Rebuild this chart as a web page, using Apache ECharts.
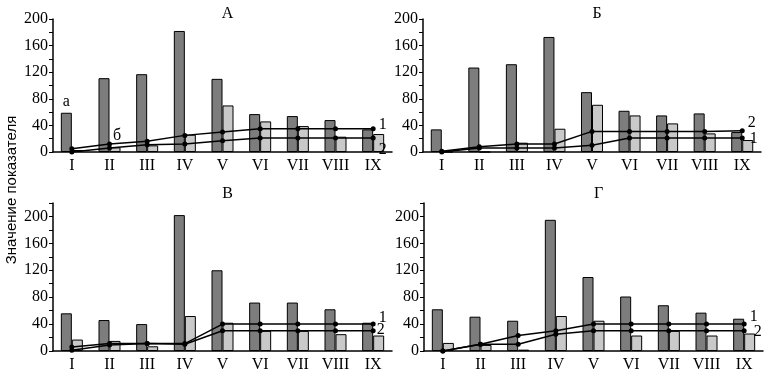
<!DOCTYPE html>
<html>
<head>
<meta charset="utf-8">
<script src="https://cdn.jsdelivr.net/npm/echarts@6/dist/echarts.min.js"></script>
<style>
  html, body { margin: 0; padding: 0; background: #fff; }
  #chart { width: 768px; height: 376px; }
</style>
</head>
<body>
<div id="chart"></div>
<script>
var chart = echarts.init(document.getElementById('chart'));

var categories = ['I', 'II', 'III', 'IV', 'V', 'VI', 'VII', 'VIII', 'IX'];
var panelTitles = ['А', 'Б', 'В', 'Г'];

// a = dark bars, b = light bars, l1 / l2 = lines 1 and 2
var aA = [59, 111, 117, 182, 110, 57, 54, 48, 34];
var bA = [3, 7, 10, 26, 70, 46, 39, 23, 27];
var l1A = [5, 12, 16, 25, 30, 35, 35, 35, 35];
var l2A = [0, 6, 11, 12, 17, 21, 21, 21, 21];

var aB = [34, 127, 132, 173, 90, 62, 55, 58, 30];
var bB = [0, 0, 14, 35, 71, 55, 43, 28, 18];
var l1B = [0, 6, 6, 6, 10, 21, 21, 21, 21];
var l2B = [1, 8, 12, 12, 31, 31, 31, 31, 32];

var aV = [56, 46, 40, 202, 120, 72, 72, 62, 42];
var bV = [17, 15, 7, 52, 42, 30, 30, 25, 23];
var l1V = [6, 11, 11, 11, 40, 40, 40, 40, 40];
var l2V = [1, 9, 11, 10, 30, 30, 30, 30, 30];

var aG = [62, 51, 45, 195, 110, 81, 68, 57, 48];
var bG = [12, 9, 2, 52, 45, 23, 30, 23, 26];
var l1G = [0, 10, 23, 30, 40, 40, 40, 40, 40];
var l2G = [0, 10, 10, 25, 30, 30, 30, 30, 30];

var serif = 'Liberation Serif';
var txt = { fontFamily: serif, fontSize: 16, color: '#000' };

var grids = [
  { left: 53, top: 19, width: 339, height: 133 },
  { left: 423, top: 19, width: 338, height: 133 },
  { left: 53, top: 203, width: 339, height: 148 },
  { left: 424, top: 203, width: 339, height: 148 }
];
var yMax = [200, 200, 220, 220];

var panels = [
  { a: aA, b: bA, l1: l1A, l2: l2A, off1: [0, -4], off2: [0, 12], aLabel: true, bLabel: true },
  { a: aB, b: bB, l1: l1B, l2: l2B, off1: [2, 1], off2: [0, -8] },
  { a: aV, b: bV, l1: l1V, l2: l2V, off1: [0, -6], off2: [-2, -1] },
  { a: aG, b: bG, l1: l1G, l2: l2G, off1: [0, -7], off2: [4, 1] }
];

var xAxes = [], yAxes = [], series = [], titles = [];

function withLabel(values, idx, text, pos, offset) {
  return values.map(function (v, i) {
    if (i !== idx) return v;
    return {
      value: v,
      label: Object.assign({ show: true, position: pos, distance: 3, offset: offset,
        formatter: text }, txt)
    };
  });
}

panels.forEach(function (p, k) {
  var g = grids[k];
  titles.push({
    text: panelTitles[k], left: g.left + g.width / 2, top: k < 2 ? 1 : 181,
    textAlign: 'center', textStyle: { fontFamily: serif, fontSize: 16, fontWeight: 'normal', color: '#000' }
  });
  xAxes.push({
    type: 'category', gridIndex: k, data: categories,
    axisLine: { lineStyle: { color: '#000', width: 1.5 } },
    axisTick: { length: 4, lineStyle: { color: '#000' } },
    axisLabel: Object.assign({ margin: 6 }, txt)
  });
  yAxes.push({
    type: 'value', gridIndex: k, min: 0, max: yMax[k], interval: 20,
    axisLine: { show: true, lineStyle: { color: '#000', width: 1.5 } },
    axisTick: { show: true, length: 4, lineStyle: { color: '#000' } },
    splitLine: { show: false },
    axisLabel: Object.assign({ margin: 5, formatter: function (v) { return v % 40 === 0 ? v : ''; } }, txt)
  });
  var barStyle = function (c) { return { color: c, borderColor: '#000', borderWidth: 1 }; };
  series.push({
    type: 'bar', xAxisIndex: k, yAxisIndex: k, barWidth: 11, barGap: '0%',
    itemStyle: barStyle('#7d7d7d'),
    data: p.aLabel ? withLabel(p.a, 0, 'а', 'top', [0, 0]) : p.a
  });
  series.push({
    type: 'bar', xAxisIndex: k, yAxisIndex: k, barWidth: 11, barGap: '0%',
    itemStyle: barStyle('#c9c9c9'),
    data: p.bLabel ? withLabel(p.b, 1, 'б', 'top', [2, -1]) : p.b
  });
  var lineCfg = function (vals, text, off) {
    return {
      type: 'line', xAxisIndex: k, yAxisIndex: k, z: 5,
      symbol: 'circle', symbolSize: 5,
      lineStyle: { color: '#000', width: 1.5 },
      itemStyle: { color: '#000' },
      data: withLabel(vals, 8, text, 'right', off)
    };
  };
  series.push(lineCfg(p.l1, '1', p.off1));
  series.push(lineCfg(p.l2, '2', p.off2));
});

var option = {
  animation: false,
  title: titles,
  grid: grids,
  xAxis: xAxes,
  yAxis: yAxes,
  series: series,
  graphic: [{
    type: 'text', x: 4, y: 190, rotation: Math.PI / 2,
    style: { text: 'Значение показателя', fontFamily: 'Liberation Sans', fontSize: 15,
      fill: '#000', align: 'center', verticalAlign: 'top' }
  }]
};

chart.setOption(option);
</script>
</body>
</html>
